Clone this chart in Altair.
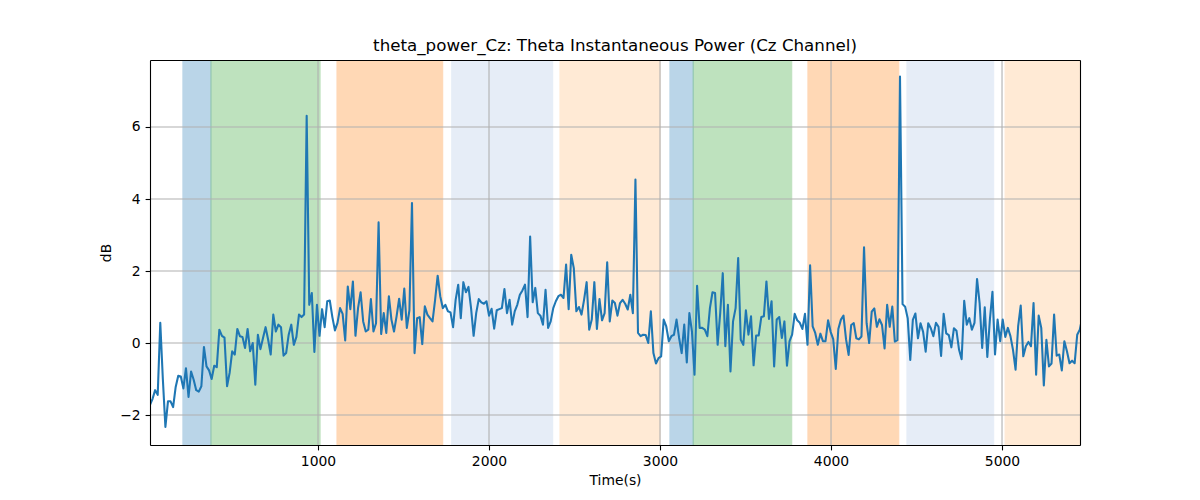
import altair as alt
import pandas as pd

# ---- data ----
T0 = 17.5          # first sample time (s)
DT = 15.02         # sampling period (s)
db_values = [
    -1.72, -1.55, -1.31, -1.44, 0.56, -1.0, -2.33, -1.62, -1.62, -1.78,
    -1.22, -0.91, -0.93, -1.26, -0.70, -1.50, -0.79, -1.02, -1.31, -1.35,
    -1.20, -0.11, -0.65, -0.76, -1.00, -0.63, -0.67, 0.37, 0.20, 0.15,
    -1.20, -0.83, -0.23, -0.32, 0.39, 0.19, 0.17, -0.14, 0.39, -0.23,
    0.00, -1.16, 0.23, -0.17, 0.14, 0.44, 0.09, -0.32, 0.79, 0.32,
    0.51, 0.44, -0.35, -0.28, 0.23, 0.51, -0.05, 0.17, 0.79, 0.72,
    0.79, 6.31, 1.06, 1.39, -0.25, 1.06, 0.20, 0.94, 0.44, 1.16,
    1.18, 0.72, 0.35, 0.56, 0.97, 0.81, 0.07, 1.57, 0.94, 1.71,
    0.20, 0.97, 1.41, 0.60, 0.32, 0.37, 1.22, 0.32, 0.55, 3.35,
    0.25, 0.83, 0.28, 1.30, 0.65, 0.32, 0.74, 1.23, 0.65, 1.51,
    0.42, 0.91, 3.89, -0.28, 0.69, 0.72, -0.03, 1.02, 0.79, 0.69,
    0.60, 1.20, 1.87, 1.30, 0.97, 1.06, 0.88, 0.85, 0.44, 1.20,
    1.62, 0.69, 1.69, 1.41, 1.56, 0.97, 0.20, 0.83, 1.22, 1.13,
    1.09, 1.16, 0.76, 0.95, 0.40, 0.91, 0.94, 0.97, 1.50, 0.83,
    1.20, 0.51, 0.88, 1.06, 1.34, 1.46, 1.62, 0.72, 2.96, 1.13,
    1.53, 0.83, 0.76, 0.51, 1.48, 0.42, 0.60, 0.97, 1.16, 1.30,
    1.34, 1.25, 2.18, 0.94, 2.45, 2.08, 0.88, 1.00, 0.79, 1.20,
    1.69, 0.37, 0.65, 1.69, 0.39, 1.22, 0.63, 0.83, 2.24, 0.60,
    1.18, 1.11, 0.76, 1.11, 1.20, 1.09, 0.93, 1.34, 0.83, 4.54,
    0.28, 0.19, 0.23, 0.22, 0.00, 0.88, -0.28, -0.57, -0.42, -0.37,
    0.65, 0.46, 0.05, 0.19, 0.23, 0.65, 0.14, -0.28, 0.51, -0.54,
    0.83, 0.32, -0.88, 1.59, 0.42, 0.42, 0.37, 0.19, 0.97, 1.41,
    1.39, -0.05, 0.83, 1.94, -0.09, 1.06, -0.79, 0.60, 0.97, 2.36,
    0.09, -0.05, 0.91, 0.23, 0.74, -0.62, 0.21, 0.21, 0.72, 0.74,
    1.71, 0.67, 1.16, -0.65, 0.65, 0.72, 0.14, 0.60, -0.63, 0.05,
    0.23, 0.81, 0.63, 0.56, 0.39, 0.81, -0.05, 2.16, 0.46, 0.28,
    -0.05, 0.26, 0.05, 0.05, 0.63, 0.31, 0.11, -0.72, 0.39, 0.65,
    0.76, 0.10, -0.33, 0.50, 0.55, 0.13, 0.10, 0.18, 2.66, 0.55,
    0.00, 0.87, 0.96, 0.45, 0.66, 0.50, -0.15, 1.06, 0.45, 1.01,
    0.04, 0.08, 7.40, 1.08, 1.01, 0.69, -0.47, 0.64, 0.82, 0.13,
    0.55, 0.31, -0.24, 0.55, 0.41, 0.19, 0.56, 0.45, -0.36, 0.81,
    0.27, 0.22, -0.12, 0.41, 0.34, -0.19, -0.45, 1.17, 0.51, 0.69,
    0.37, 0.56, 1.78, 1.11, -0.14, 0.99, -0.39, 0.65, 1.42, -0.32,
    0.65, 0.05, 0.65, 0.17, 0.42, 0.19, -0.19, -0.74, 0.46, 1.04,
    -0.37, -0.09, 0.03, -0.09, 1.11, -0.88, 0.76, 0.42, -1.18, 0.09,
    -0.65, -0.57, 0.79, -0.35, -0.32, -0.76, 0.05, -0.23, -0.56, -0.49,
    -0.56, 0.23, 0.37, 0.72,
]
times = [T0 + DT * i for i in range(len(db_values))]

band_start = [210, 374, 1111, 1782, 2415, 3058, 3194, 3865, 4444, 5018]
band_end = [374, 1012, 1729, 2372, 3000, 3194, 3770, 4396, 4951, 5456]
band_kind = ["A", "B", "C", "D", "E", "A", "B", "C", "D", "E"]
kind_names = ["A", "B", "C", "D", "E"]
kind_colors = ["#1f77b4", "#2ca02c", "#ff7f0e", "#aec7e8", "#ffbb78"]

x_ticks = [1000, 2000, 3000, 4000, 5000]
y_ticks = [-2, 0, 2, 4, 6]
x_domain = [17.5, 5456]
y_domain = [-2.833, 7.861]

# ---- chart ----
FONT = "DejaVu Sans"
line_df = pd.DataFrame({"t": times, "db": db_values})
bands_df = pd.DataFrame({"start": band_start, "end": band_end, "kind": band_kind})

xs = alt.Scale(domain=x_domain, nice=False, zero=False)
ys = alt.Scale(domain=y_domain, nice=False, zero=False)

common = dict(grid=False, domain=True, domainColor="black", domainWidth=1.1,
              tickSize=4.9, tickWidth=1.1, tickColor="black", labelPadding=4.9,
              labelFont=FONT, labelFontSize=13.9, labelColor="black",
              titleFont=FONT, titleFontSize=13.9, titleColor="black",
              titleFontWeight="normal", labelFlush=False, zindex=1)

x_axis = alt.Axis(values=x_ticks, format="d", title="Time(s)", titlePadding=5,
                  orient="bottom", **common)
y_axis = alt.Axis(values=y_ticks, format="d", title="dB", titlePadding=6,
                  orient="left", **common)
x_top = alt.Axis(orient="top", values=x_ticks, labels=False, ticks=False, title=None,
                 grid=False, domain=True, domainColor="black", domainWidth=1.1, zindex=1)
y_right = alt.Axis(orient="right", values=y_ticks, labels=False, ticks=False, title=None,
                   grid=False, domain=True, domainColor="black", domainWidth=1.1, zindex=1)

cscale = alt.Scale(domain=kind_names, range=kind_colors)

bands = alt.Chart(bands_df).mark_rect(opacity=0.3, strokeWidth=1.1, clip=True).encode(
    x=alt.X("start:Q", scale=xs, axis=None),
    x2="end:Q",
    color=alt.Color("kind:N", scale=cscale, legend=None),
    stroke=alt.Stroke("kind:N", scale=cscale, legend=None),
)

xgrid = alt.Chart(pd.DataFrame({"v": x_ticks})).mark_rule(
    color="#b0b0b0", strokeWidth=1.1).encode(x=alt.X("v:Q", scale=xs, axis=x_top))
ygrid = alt.Chart(pd.DataFrame({"v": y_ticks})).mark_rule(
    color="#b0b0b0", strokeWidth=1.1).encode(y=alt.Y("v:Q", scale=ys, axis=y_right))

line = alt.Chart(line_df).mark_line(color="#1f77b4", strokeWidth=2.08,
                                    strokeJoin="round", clip=True).encode(
    x=alt.X("t:Q", scale=xs, axis=x_axis),
    y=alt.Y("db:Q", scale=ys, axis=y_axis),
)

chart = alt.layer(bands, xgrid, ygrid, line).resolve_scale(
    x="shared", y="shared").resolve_axis(x="independent", y="independent").properties(
    width=930, height=385,
    title=alt.TitleParams("theta_power_Cz: Theta Instantaneous Power (Cz Channel)",
                          font=FONT, fontSize=16.7, fontWeight="normal", color="black",
                          anchor="middle", offset=5),
    autosize=alt.AutoSizeParams(type="none"),
    padding={"left": 142, "top": 52, "right": 112, "bottom": 47},
).configure_view(stroke=None).configure(background="white")

chart.save("out.html", embed_options={"renderer": "svg", "actions": False})
